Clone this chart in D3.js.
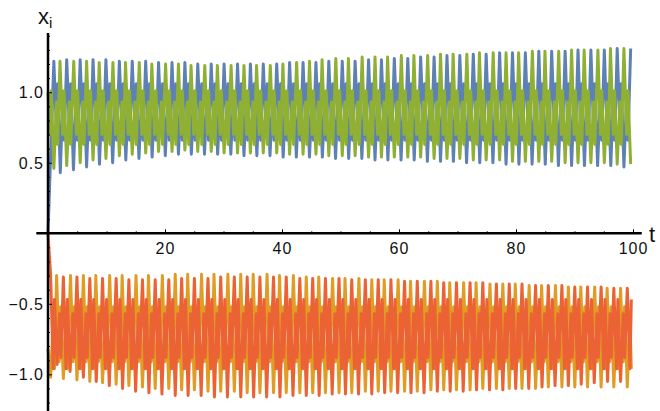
<!DOCTYPE html>
<html>
<head>
<meta charset="utf-8">
<title>x_i(t)</title>
<style>
  * { margin: 0; padding: 0; }
  body { background: #fff; }
  svg { display: block; }
  text { font-family: "Liberation Sans", Arial, sans-serif; fill: #111; }
  .tick-label { font-size: 16px; letter-spacing: 1px; }
  .axis-label { font-size: 22px; }
</style>
<script src="https://d3js.org/d3.v7.min.js"></script>
</head>
<body>
<svg id="chart" width="660" height="411"></svg>
<script>
// tick labels
const tTicks = [20, 40, 60, 80, 100];
const yTicks = [-1.0, -0.5, 0.5, 1.0];

// times of the blue maxima
const peakT = [1.0, 3.2, 5.5, 7.7, 9.9, 12.2, 14.4, 16.7, 18.9, 21.2,
  23.4, 25.6, 27.9, 30.1, 32.4, 34.6, 36.8, 39.1, 41.3, 43.6,
  45.8, 48.0, 50.3, 52.5, 54.8, 57.0, 59.2, 61.5, 63.7, 66.0,
  68.2, 70.4, 72.7, 74.9, 77.2, 79.4, 81.6, 83.9, 86.1, 88.4,
  90.6, 92.8, 95.1, 97.3, 99.6];

// per-cycle maxima / minima of each series
const blueHi = [1.22, 1.23, 1.23, 1.23, 1.23, 1.22, 1.22, 1.22, 1.21, 1.21,
  1.21, 1.20, 1.20, 1.20, 1.20, 1.20, 1.20, 1.20, 1.21, 1.21,
  1.21, 1.22, 1.22, 1.22, 1.23, 1.23, 1.24, 1.24, 1.25, 1.25,
  1.26, 1.26, 1.27, 1.27, 1.28, 1.28, 1.28, 1.29, 1.29, 1.29,
  1.30, 1.30, 1.30, 1.31, 1.31];
const blueLo = [0.43, 0.45, 0.47, 0.49, 0.50, 0.52, 0.53, 0.54, 0.55, 0.56,
  0.56, 0.56, 0.56, 0.56, 0.55, 0.55, 0.55, 0.54, 0.54, 0.54,
  0.54, 0.53, 0.53, 0.53, 0.52, 0.52, 0.52, 0.52, 0.51, 0.51,
  0.51, 0.50, 0.50, 0.50, 0.49, 0.49, 0.49, 0.49, 0.48, 0.48,
  0.48, 0.48, 0.48, 0.47, 0.47];
const greenHi = [1.22, 1.22, 1.22, 1.22, 1.21, 1.21, 1.21, 1.21, 1.20, 1.20,
  1.20, 1.19, 1.19, 1.19, 1.19, 1.19, 1.19, 1.19, 1.20, 1.21,
  1.22, 1.23, 1.24, 1.24, 1.25, 1.25, 1.25, 1.26, 1.26, 1.26,
  1.27, 1.27, 1.27, 1.28, 1.28, 1.28, 1.28, 1.29, 1.29, 1.29,
  1.30, 1.30, 1.30, 1.31, 1.31];
const greenLo = [0.46, 0.48, 0.50, 0.52, 0.53, 0.55, 0.56, 0.57, 0.58, 0.58,
  0.59, 0.58, 0.58, 0.57, 0.57, 0.57, 0.57, 0.57, 0.56, 0.56,
  0.56, 0.55, 0.55, 0.55, 0.54, 0.54, 0.54, 0.54, 0.54, 0.53,
  0.53, 0.53, 0.52, 0.52, 0.52, 0.51, 0.51, 0.51, 0.51, 0.50,
  0.50, 0.50, 0.50, 0.49, 0.49];
const orangeHi = [-0.30, -0.30, -0.30, -0.30, -0.30, -0.30, -0.30, -0.30, -0.30, -0.30,
  -0.29, -0.29, -0.29, -0.29, -0.29, -0.29, -0.29, -0.29, -0.30, -0.30,
  -0.31, -0.31, -0.32, -0.32, -0.32, -0.33, -0.33, -0.33, -0.34, -0.34,
  -0.34, -0.35, -0.35, -0.35, -0.36, -0.36, -0.36, -0.37, -0.37, -0.37,
  -0.38, -0.38, -0.38, -0.39, -0.39];
const orangeLo = [-1.02, -1.03, -1.04, -1.05, -1.06, -1.07, -1.08, -1.09, -1.10, -1.10,
  -1.11, -1.11, -1.12, -1.12, -1.12, -1.13, -1.13, -1.13, -1.13, -1.13,
  -1.13, -1.13, -1.13, -1.13, -1.12, -1.12, -1.12, -1.12, -1.12, -1.11,
  -1.11, -1.11, -1.11, -1.10, -1.10, -1.10, -1.10, -1.10, -1.09, -1.09,
  -1.09, -1.09, -1.09, -1.09, -1.09];
const redHi = [-0.30, -0.31, -0.31, -0.32, -0.32, -0.32, -0.33, -0.33, -0.33, -0.33,
  -0.32, -0.32, -0.32, -0.31, -0.31, -0.31, -0.31, -0.31, -0.31, -0.32,
  -0.32, -0.32, -0.32, -0.33, -0.33, -0.33, -0.33, -0.34, -0.34, -0.34,
  -0.35, -0.35, -0.35, -0.35, -0.36, -0.36, -0.36, -0.37, -0.37, -0.37,
  -0.38, -0.38, -0.38, -0.39, -0.39];
const redLo = [-0.93, -0.98, -1.02, -1.05, -1.08, -1.10, -1.12, -1.13, -1.14, -1.15,
  -1.15, -1.15, -1.16, -1.16, -1.16, -1.16, -1.16, -1.16, -1.15, -1.15,
  -1.15, -1.14, -1.14, -1.14, -1.14, -1.13, -1.13, -1.13, -1.13, -1.12,
  -1.12, -1.12, -1.11, -1.11, -1.11, -1.10, -1.10, -1.09, -1.08, -1.08,
  -1.07, -1.06, -1.05, -1.05, -1.04];

// inner turning levels within a cycle (low, high, high, low) and starting values
const blueMid = [0.74, 1.06, 0.97, 0.66];
const greenMid = [0.70, 1.01, 0.93, 0.63];
const orangeMid = [-0.91, -0.52, -0.61, -0.96];
const redMid = [-0.96, -0.47, -0.57, -0.88];
const startVals = [0.0, -0.82, 1.0, 0.0];   // blue, orange, green, red

const seriesColors = ["#5E81B5", "#E19C24", "#8FB032", "#EB6235"];
const seriesPhase = [0, 0.25, 0.5, 0.75];

// drawing order as in the original: blue, orange, green, red
const series = [
  { hi: blueHi, lo: blueLo, mid: blueMid },
  { hi: orangeHi, lo: orangeLo, mid: orangeMid },
  { hi: greenHi, lo: greenLo, mid: greenMid },
  { hi: redHi, lo: redLo, mid: redMid }
];

const W = 660, H = 411;
const svg = d3.select("#chart");

const x = d3.scaleLinear().domain([0, 100]).range([48, 633]);
const y = d3.scaleLinear().domain([-1.26, 1.42]).range([411, 33]);

// turning points of one series: max, inner low, inner high, min, inner high, inner low
function turningPoints(s, k) {
  const pts = [{ t: 0, v: startVals[k] }];
  const frac = [0, 0.2, 0.3, 0.5, 0.7, 0.8];
  peakT.forEach((t0, i) => {
    const gap = i < peakT.length - 1 ? peakT[i + 1] - t0 : t0 - peakT[i - 1];
    const vals = [s.hi[i], s.mid[0], s.mid[1], s.lo[i], s.mid[2], s.mid[3]];
    const base = t0 + seriesPhase[k] * gap - (k > 0 ? gap : 0);
    frac.forEach((f, j) => {
      const t = base + f * gap;
      if (t > 0.3 && t <= 100) pts.push({ t: t, v: vals[j] });
    });
  });
  pts.sort((a, b) => a.t - b.t);
  return pts;
}

const line = d3.line()
  .x(d => x(d.t))
  .y(d => y(d.v));

const plot = svg.append("g").attr("class", "plot");
series.forEach((s, k) => {
  plot.append("path")
    .attr("d", line(turningPoints(s, k)))
    .attr("fill", "none")
    .attr("stroke", seriesColors[k])
    .attr("stroke-width", 3)
    .attr("stroke-linejoin", "round");
});

// axes, Mathematica style: lines crossing at the origin
const axes = svg.append("g").attr("class", "axes");

axes.append("line")
  .attr("x1", x(-2)).attr("x2", x(101.5))
  .attr("y1", y(0)).attr("y2", y(0))
  .attr("stroke", "#000").attr("stroke-width", 2.5);
axes.append("line")
  .attr("x1", x(0)).attr("x2", x(0))
  .attr("y1", y(1.42)).attr("y2", H)
  .attr("stroke", "#000").attr("stroke-width", 2.5);

// x ticks (major and minor)
const xAxis = d3.axisBottom(x)
  .tickValues(d3.range(5, 101, 5))
  .tickSizeInner(0)
  .tickSizeOuter(0)
  .tickFormat("");
const gx = axes.append("g")
  .attr("transform", `translate(0, ${y(0)})`)
  .call(xAxis);
gx.select(".domain").remove();
gx.selectAll(".tick line")
  .attr("y2", d => tTicks.includes(d) ? -4 : -2)
  .attr("stroke", "#000");
gx.selectAll(".tick").filter(d => tTicks.includes(d))
  .append("text")
  .attr("class", "tick-label")
  .attr("y", 21)
  .attr("text-anchor", "middle")
  .text(d => d3.format("d")(d));

// y ticks (major and minor)
const yMinor = d3.range(-12, 15).map(d => d / 10).filter(d => Math.abs(d) > 0.01);
const yAxis = d3.axisLeft(y)
  .tickValues(yMinor)
  .tickSizeInner(0)
  .tickSizeOuter(0)
  .tickFormat("");
const gy = axes.append("g")
  .attr("transform", `translate(${x(0)}, 0)`)
  .call(yAxis);
gy.select(".domain").remove();
const isMajor = d => yTicks.some(v => Math.abs(v - d) < 1e-6);
gy.selectAll(".tick line")
  .attr("x2", d => isMajor(d) ? 4 : 2)
  .attr("stroke", "#000");
gy.selectAll(".tick").filter(isMajor)
  .append("text")
  .attr("class", "tick-label")
  .attr("x", -4)
  .attr("dy", "0.35em")
  .attr("text-anchor", "end")
  .text(d => d3.format(".1f")(d).replace("-", "\u2212"));

// axis labels
const xl = svg.append("text")
  .attr("class", "axis-label")
  .attr("x", 649)
  .attr("y", y(0) + 9)
  .text("t");
const yl = svg.append("text")
  .attr("class", "axis-label")
  .attr("x", 38)
  .attr("y", 24);
yl.append("tspan").text("x");
yl.append("tspan")
  .attr("dy", 4)
  .style("font-size", "15px")
  .text("i");
</script>
</body>
</html>
